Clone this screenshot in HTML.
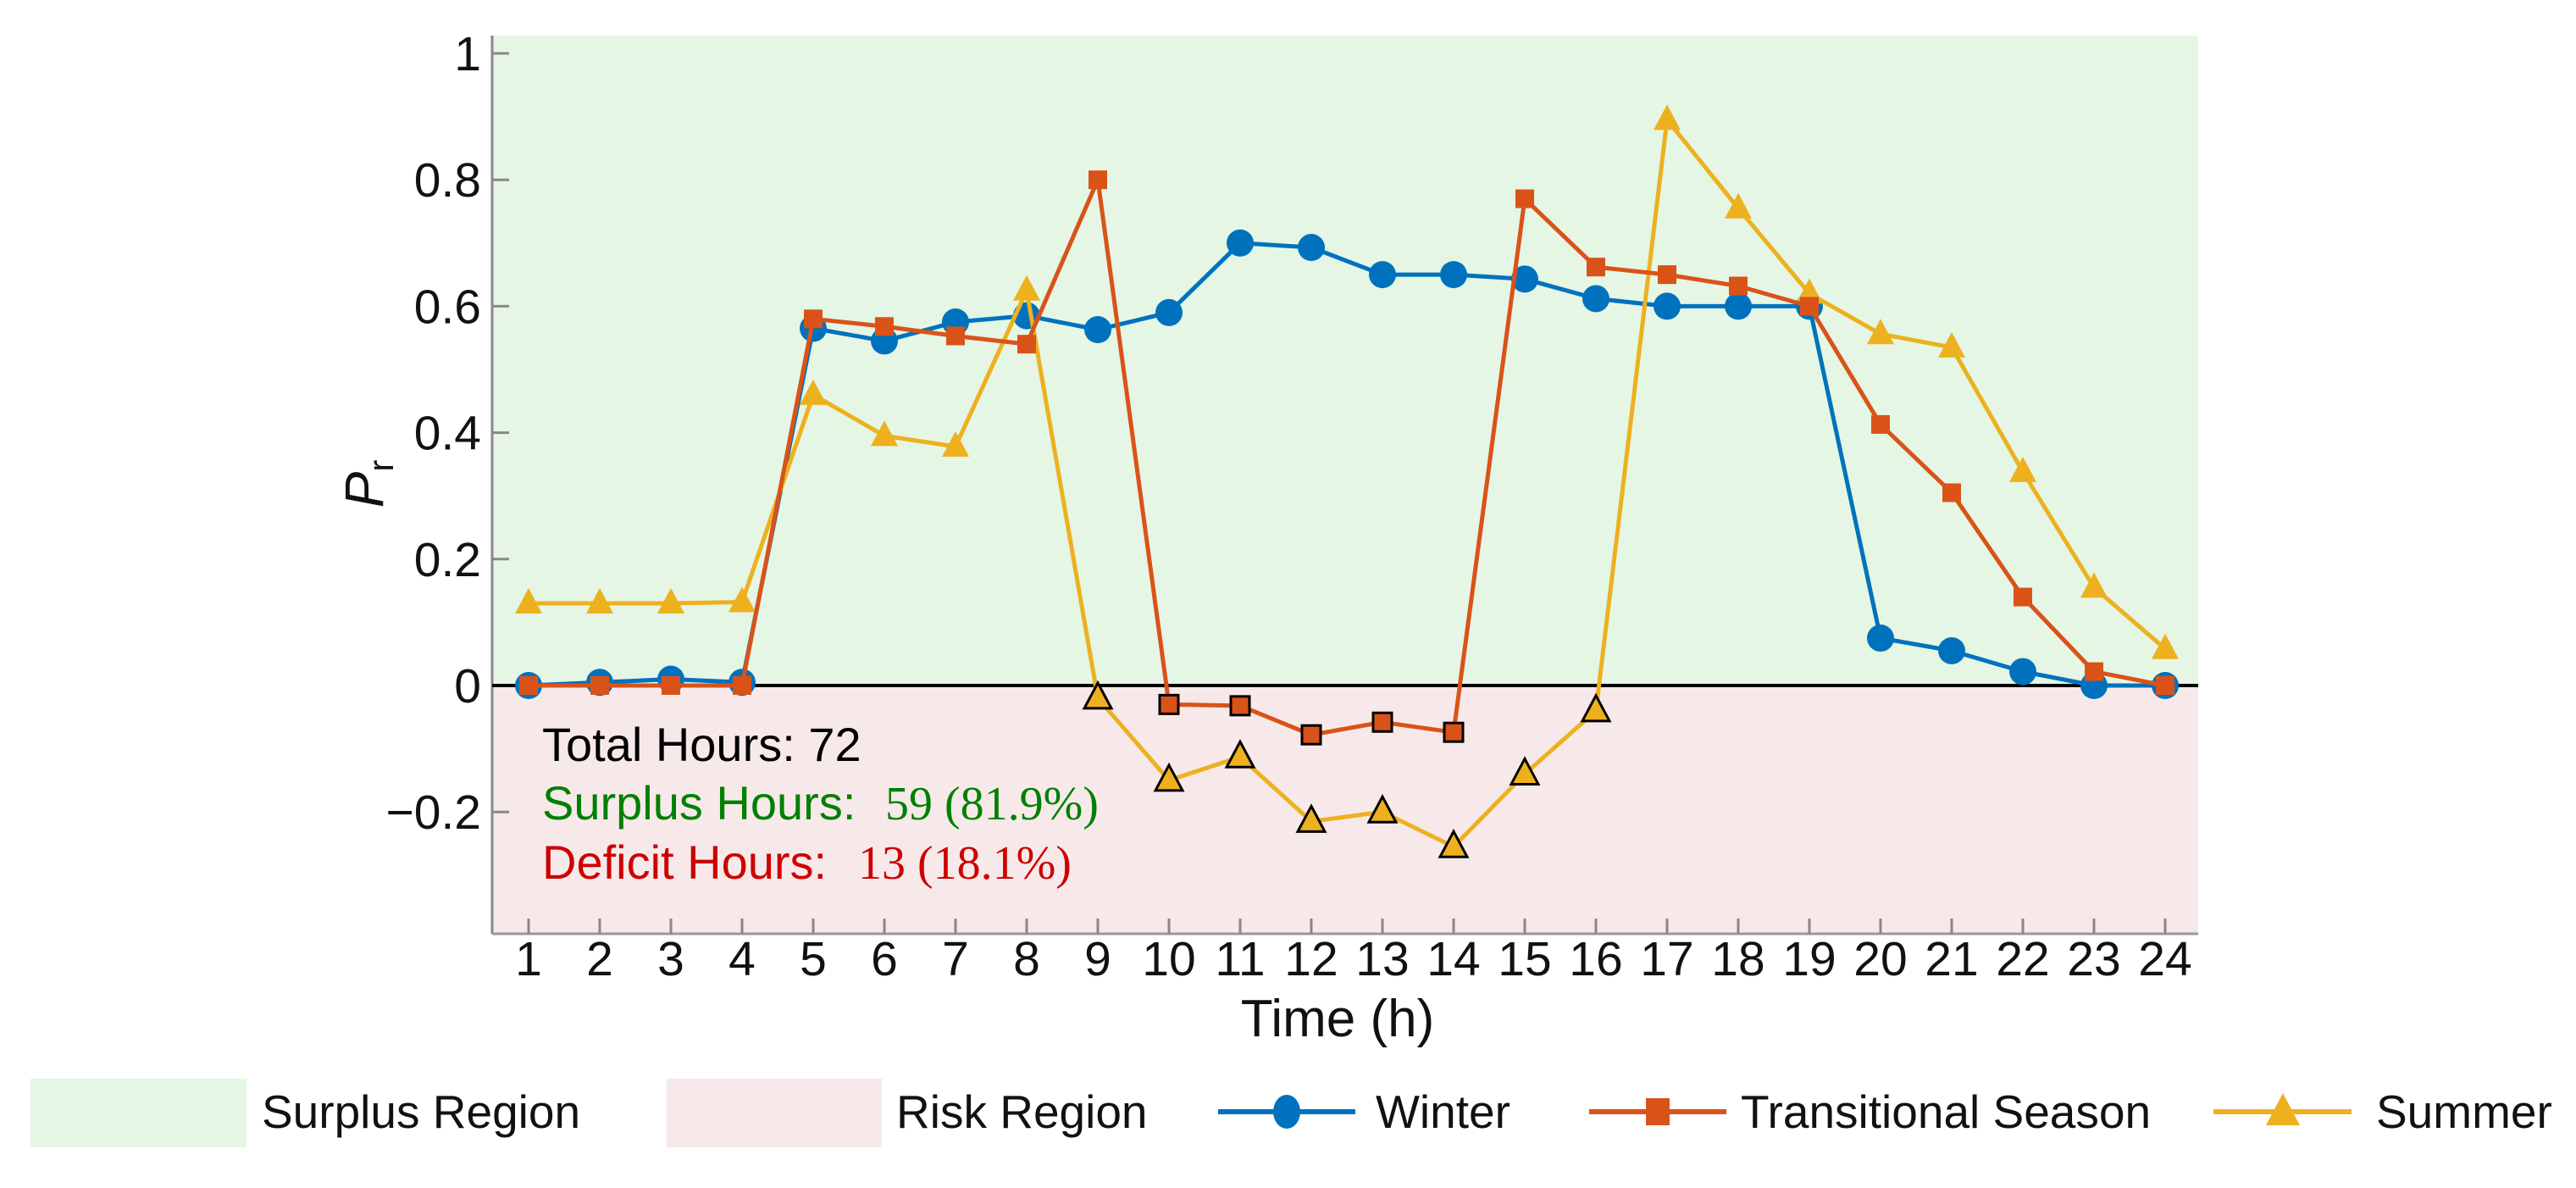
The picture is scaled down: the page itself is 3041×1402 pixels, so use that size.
<!DOCTYPE html>
<html><head><meta charset="utf-8"><style>
html,body{margin:0;padding:0;background:#fff;}
svg{display:block;font-family:"Liberation Sans",Arial,sans-serif;}
</style></head><body>
<svg id="chart" width="3041" height="1402" viewBox="0 0 3041 1402" xmlns="http://www.w3.org/2000/svg">
<rect x="581" y="42" width="2014" height="767" fill="#e5f6e5"/>
<rect x="581" y="809" width="2014" height="293" fill="#f7e9e9"/>
<g id="axes"></g>
<g id="series"></g>
<g font-size="56">
<text x="640" y="898" fill="#000">Total Hours: 72</text>
<text x="640" y="967" fill="#008000">Surplus Hours:<tspan x="1045" font-family="'Liberation Serif',serif">59 (81.9%)</tspan></text>
<text x="640" y="1037" fill="#cc0000">Deficit Hours:<tspan x="1013" font-family="'Liberation Serif',serif">13 (18.1%)</tspan></text>
</g>
<text x="1579" y="1223" font-size="62" text-anchor="middle" fill="#111">Time (h)</text>
<text transform="translate(452,571) rotate(-90)" font-size="64" text-anchor="middle" fill="#111" font-style="italic">P<tspan font-size="42" font-style="normal" dy="12">r</tspan></text>
<g font-size="55" fill="#111">
<rect x="36" y="1273" width="255" height="81" fill="#e5f6e5"/>
<text x="309" y="1331">Surplus Region</text>
<rect x="787" y="1273" width="254" height="81" fill="#f7e9e9"/>
<text x="1058" y="1331">Risk Region</text>
<line x1="1438" y1="1312" x2="1600" y2="1312" stroke="#0072bd" stroke-width="6"/>
<ellipse cx="1519" cy="1312" rx="16" ry="20" fill="#0072bd"/>
<text x="1624" y="1331">Winter</text>
<line x1="1876" y1="1312" x2="2038" y2="1312" stroke="#d95319" stroke-width="6"/>
<rect x="1943" y="1296" width="28" height="32" fill="#d95319"/>
<text x="2055" y="1331">Transitional Season</text>
<line x1="2613" y1="1312" x2="2776" y2="1312" stroke="#edb120" stroke-width="6"/>
<polygon points="2695,1290 2715,1328 2675,1328" fill="#edb120"/>
<text x="2805" y="1331">Summer</text>
</g>
</svg>
<script>
const hours = [1,2,3,4,5,6,7,8,9,10,11,12,13,14,15,16,17,18,19,20,21,22,23,24];
const winter = [0,0.005,0.01,0.005,0.565,0.545,0.575,0.585,0.563,0.59,0.70,0.693,0.65,0.65,0.643,0.612,0.60,0.60,0.60,0.075,0.055,0.022,0,0];
const transitional = [0,0,0,0,0.58,0.568,0.553,0.54,0.80,-0.03,-0.032,-0.078,-0.058,-0.074,0.77,0.662,0.65,0.632,0.60,0.413,0.305,0.14,0.022,0];
const summer = [0.13,0.13,0.13,0.132,0.46,0.395,0.378,0.625,-0.02,-0.15,-0.113,-0.215,-0.2,-0.255,-0.14,-0.04,0.895,0.755,0.62,0.556,0.535,0.338,0.155,0.058];
const yTicks = [-0.2,0,0.2,0.4,0.6,0.8,1];
const yTickLabels = ["\u22120.2","0","0.2","0.4","0.6","0.8","1"];

const NS = "http://www.w3.org/2000/svg";
const L=581,R=2595,T=42,B=1102;
const X = h => 624 + (h-1)*84;
const Y = v => 809 - v*746;
function mk(tag, attrs, parent){const e=document.createElementNS(NS,tag);for(const k in attrs)e.setAttribute(k,attrs[k]);parent.appendChild(e);return e;}
const axes=document.getElementById('axes');
const series=document.getElementById('series');

let a=mk('line',{x1:L,y1:T,x2:L,y2:B,stroke:'#888','stroke-width':3},axes);


a=mk('line',{x1:L,y1:B,x2:R,y2:B,stroke:'#999','stroke-width':3},axes);


yTicks.forEach((v,i)=>{
  const t=mk('line',{x1:L,y1:Y(v),x2:L+20,y2:Y(v),stroke:'#888','stroke-width':3},axes);
  
  
  const tx=mk('text',{x:568,y:Y(v)+20,'font-size':57,'text-anchor':'end',fill:'#111'},axes);
  tx.textContent=yTickLabels[i];
  
  
});
hours.forEach(h=>{
  const t=mk('line',{x1:X(h),y1:B,x2:X(h),y2:B-18,stroke:'#888','stroke-width':3},axes);
  
  
  const tx=mk('text',{x:X(h),y:1151,'font-size':57,'text-anchor':'middle',fill:'#111'},axes);
  tx.textContent=String(h);
  
  
});
const zl=mk('line',{x1:L,y1:Y(0),x2:R,y2:Y(0),stroke:'#000','stroke-width':4},axes);



function drawSeries(vals,color,shape,name){
  const g=mk('g',{},series);
  
  
  const pl=mk('polyline',{points:vals.map((v,i)=>X(hours[i])+','+Y(v)).join(' '),fill:'none',stroke:color,'stroke-width':5,'stroke-linejoin':'round'},g);
  
  
  vals.forEach((v,i)=>{
    const x=X(hours[i]),y=Y(v);
    const neg=v<0;
    const st=neg?{stroke:'#000','stroke-width':3}:{};
    let m;
    if(shape==='circle') m=mk('circle',Object.assign({cx:x,cy:y,r:16,fill:color},st),g);
    else if(shape==='square') m=mk('rect',Object.assign({x:x-11,y:y-11,width:22,height:22,fill:color},st),g);
    else m=mk('polygon',Object.assign({points:`${x},${y-18} ${x+16},${y+12} ${x-16},${y+12}`,fill:color},st),g);
    
    
  });
}
drawSeries(winter,'#0072bd','circle','winter');
drawSeries(summer,'#edb120','triangle','summer');
drawSeries(transitional,'#d95319','square','transitional');
</script>
</body></html>
